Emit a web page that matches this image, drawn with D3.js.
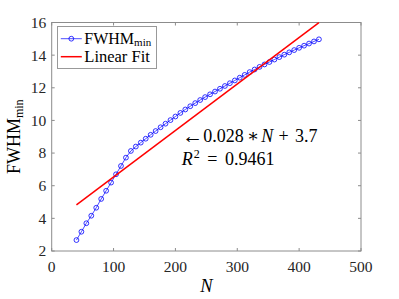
<!DOCTYPE html>
<html>
<head>
<meta charset="utf-8">
<script src="https://cdn.jsdelivr.net/npm/d3@7"></script>
<style>
  body { margin: 0; background: #fff; }
</style>
</head>
<body>
<div id="chart"></div>
<script>
// sample sizes and measured FWHM_min
const nValues = [40, 48, 56, 64, 72, 80, 88, 96, 104, 112, 120, 128, 136, 144, 152, 160, 168, 176, 184, 192,
  200, 208, 216, 224, 232, 240, 248, 256, 264, 272, 280, 288, 296, 304, 312, 320, 328, 336, 344, 352,
  360, 368, 376, 384, 392, 400, 408, 416, 424, 432];
const fwhmValues = [2.67, 3.18, 3.70, 4.16, 4.65, 5.19, 5.69, 6.19, 6.70, 7.21, 7.72, 8.13, 8.40, 8.64, 8.88, 9.12, 9.35, 9.58, 9.80, 10.02,
  10.24, 10.46, 10.67, 10.87, 11.06, 11.25, 11.43, 11.60, 11.77, 11.94, 12.11, 12.28, 12.45, 12.62, 12.79, 12.96, 13.12, 13.28, 13.43, 13.58,
  13.73, 13.88, 14.03, 14.17, 14.31, 14.45, 14.58, 14.71, 14.84, 14.97];

// linear fit drawn over the data range
const fitSlope = 0.0285;
const fitIntercept = 3.68;

const xTicks = [0, 100, 200, 300, 400, 500];
const yTicks = [2, 4, 6, 8, 10, 12, 14, 16];
const legendLabels = ["FWHM", "Linear Fit"];

const W = 399, H = 299;
const margin = { top: 22.5, right: 38, bottom: 48, left: 51.7 };
const width = W - margin.left - margin.right;
const height = H - margin.top - margin.bottom;
const serif = "'Liberation Serif', 'Times New Roman', Times, 'DejaVu Serif', serif";

const svg = d3.select("#chart").append("svg")
  .attr("width", W)
  .attr("height", H)
  .attr("font-family", serif);

const g = svg.append("g")
  .attr("transform", `translate(${margin.left},${margin.top})`);

const x = d3.scaleLinear().domain([0, 500]).range([0, width]);
const y = d3.scaleLinear().domain([2, 16]).range([height, 0]);

const axisColor = "#8c8c8c";
const labelColor = "#262626";

// box
g.append("rect")
  .attr("width", width)
  .attr("height", height)
  .attr("fill", "none")
  .attr("stroke", axisColor)
  .attr("stroke-width", 1);

// ticks inside on all four sides
const tl = 3;
xTicks.forEach(t => {
  g.append("line").attr("x1", x(t)).attr("x2", x(t)).attr("y1", height).attr("y2", height - tl)
    .attr("stroke", axisColor);
  g.append("line").attr("x1", x(t)).attr("x2", x(t)).attr("y1", 0).attr("y2", tl)
    .attr("stroke", axisColor);
  g.append("text")
    .attr("x", x(t))
    .attr("y", height + 20.7)
    .attr("text-anchor", "middle")
    .attr("fill", labelColor)
    .style("font-size", "15.5px")
    .text(t);
});
yTicks.forEach(t => {
  g.append("line").attr("x1", 0).attr("x2", tl).attr("y1", y(t)).attr("y2", y(t))
    .attr("stroke", axisColor);
  g.append("line").attr("x1", width).attr("x2", width - tl).attr("y1", y(t)).attr("y2", y(t))
    .attr("stroke", axisColor);
  g.append("text")
    .attr("x", -5.5)
    .attr("y", y(t))
    .attr("dy", "0.35em")
    .attr("text-anchor", "end")
    .attr("fill", labelColor)
    .style("font-size", "15.5px")
    .text(t);
});

// axis labels
g.append("text")
  .attr("x", width / 2)
  .attr("y", height + 41.3)
  .attr("text-anchor", "middle")
  .style("font-size", "18.5px")
  .style("font-style", "italic")
  .text("N");

const yl = g.append("text")
  .attr("transform", `translate(-31.5,${height / 2}) rotate(-90)`)
  .attr("text-anchor", "middle")
  .style("font-size", "18px");
yl.append("tspan").text("FWHM");
yl.append("tspan").attr("dy", 3).style("font-size", "12px").text("min");

// data
const pts = nValues.map((n, i) => ({ n, v: fwhmValues[i] }));

g.append("path")
  .datum(pts)
  .attr("fill", "none")
  .attr("stroke", "#0000ff")
  .attr("stroke-width", 0.7)
  .attr("d", d3.line().x(d => x(d.n)).y(d => y(d.v)));

g.selectAll(".pt")
  .data(pts)
  .enter().append("circle")
  .attr("class", "pt")
  .attr("cx", d => x(d.n))
  .attr("cy", d => y(d.v))
  .attr("r", 2.4)
  .attr("fill", "none")
  .attr("stroke", "#0000ff")
  .attr("stroke-width", 0.8);

// fit line
const n0 = nValues[0], n1 = nValues[nValues.length - 1];
g.append("line")
  .attr("x1", x(n0)).attr("y1", y(fitSlope * n0 + fitIntercept))
  .attr("x2", x(n1)).attr("y2", y(fitSlope * n1 + fitIntercept))
  .attr("stroke", "#ff0000")
  .attr("stroke-width", 1.5);

// annotation, laid out piece by piece like TeX math spacing
g.append("text")
  .attr("x", 130.5)
  .attr("y", 120)
  .style("font-size", "21px")
  .text("\u2190");

const a1 = g.append("text")
  .attr("y", 119.2)
  .style("font-size", "18px");
a1.append("tspan").attr("x", 151.6).text("0.028");
a1.append("tspan").attr("x", 201.3).attr("text-anchor", "middle").text("\u2217");
a1.append("tspan").attr("x", 209.5).style("font-style", "italic").text("N");
a1.append("tspan").attr("x", 232).attr("text-anchor", "middle").text("+");
a1.append("tspan").attr("x", 243.3).text("3.7");

const a2 = g.append("text")
  .attr("y", 142.5)
  .style("font-size", "18px");
a2.append("tspan").attr("x", 130).style("font-style", "italic").text("R");
a2.append("tspan").attr("x", 142).attr("dy", -7.5).style("font-size", "12px").text("2");
a2.append("tspan").attr("x", 155.6).attr("dy", 7.5).text("=");
a2.append("tspan").attr("x", 173.3).text("0.9461");

// legend
const lg = g.append("g").attr("transform", "translate(5.6,4.2)");
lg.append("rect")
  .attr("width", 99.4)
  .attr("height", 41.6)
  .attr("fill", "#fff")
  .attr("stroke", "#555")
  .attr("stroke-width", 0.6);

lg.append("line").attr("x1", 3.5).attr("x2", 24.5).attr("y1", 12).attr("y2", 12)
  .attr("stroke", "#0000ff").attr("stroke-width", 0.7);
lg.append("circle").attr("cx", 14).attr("cy", 12).attr("r", 2.4)
  .attr("fill", "none").attr("stroke", "#0000ff").attr("stroke-width", 0.8);
const t1 = lg.append("text").attr("x", 27).attr("y", 17).style("font-size", "16px");
t1.append("tspan").text(legendLabels[0]);
t1.append("tspan").attr("dy", 2.5).style("font-size", "11px").text("min");

lg.append("line").attr("x1", 3.5).attr("x2", 24.5).attr("y1", 30).attr("y2", 30)
  .attr("stroke", "#ff0000").attr("stroke-width", 1.5);
lg.append("text").attr("x", 27).attr("y", 35).style("font-size", "16.5px").text(legendLabels[1]);
</script>
</body>
</html>
